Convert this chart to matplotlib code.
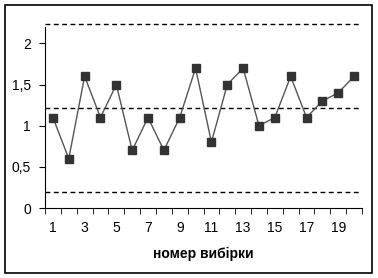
import matplotlib
matplotlib.use("Agg")
import matplotlib.pyplot as plt
from matplotlib.patches import Rectangle

# номери вибірок і значення
samples = list(range(1, 21))
values = [1.1, 0.6, 1.6, 1.1, 1.5, 0.7, 1.1, 0.7, 1.1, 1.7,
          0.8, 1.5, 1.7, 1.0, 1.1, 1.6, 1.1, 1.3, 1.4, 1.6]
ucl = 2.235
center = 1.215
lcl = 0.195

y_ticks = [0, 0.5, 1, 1.5, 2]
y_labels = ["0", "0,5", "1", "1,5", "2"]
x_ticks = list(range(1, 20, 2))

plt.rcParams["font.family"] = ["Liberation Sans", "DejaVu Sans"]

fig = plt.figure(figsize=(3.78, 2.78), dpi=100)
fig.patch.set_facecolor("white")
fig.add_artist(Rectangle((5 / 378, 1 - 273 / 278), 367 / 378, 268 / 278,
                         transform=fig.transFigure, fill=False,
                         edgecolor="black", linewidth=1.2))

ax = fig.add_axes([45 / 378, 1 - 208 / 278, 317 / 378, 181 / 278])

for lvl in (ucl, center, lcl):
    ax.axhline(lvl, color="black", linestyle=(0, (3.5, 2.5)), linewidth=1.0,
               clip_on=False, xmin=0, xmax=0.995)

ax.plot(samples, values, color="#555555", linewidth=1.0, marker="s",
        markersize=5.2, markerfacecolor="#333333", markeredgecolor="#333333")

ax.set_xlim(0.5, 20.5)
ax.set_ylim(0, 2.2)
ax.set_yticks(y_ticks)
ax.set_yticklabels(y_labels, fontsize=10)
ax.set_xticks(x_ticks)
ax.set_xticklabels([str(t) for t in x_ticks], fontsize=10)
ax.tick_params(axis="x", which="major", length=0, pad=9)
ax.set_xticks([i + 0.5 for i in range(0, 21)], minor=True)
ax.tick_params(axis="x", which="minor", length=4, direction="out")
ax.tick_params(axis="y", length=4, direction="out", pad=6)

for side in ("top", "right"):
    ax.spines[side].set_visible(False)

ax.set_xlabel("номер вибірки", fontsize=10, fontweight="bold", labelpad=9)

fig.savefig("out.png", dpi=100, facecolor="white")
